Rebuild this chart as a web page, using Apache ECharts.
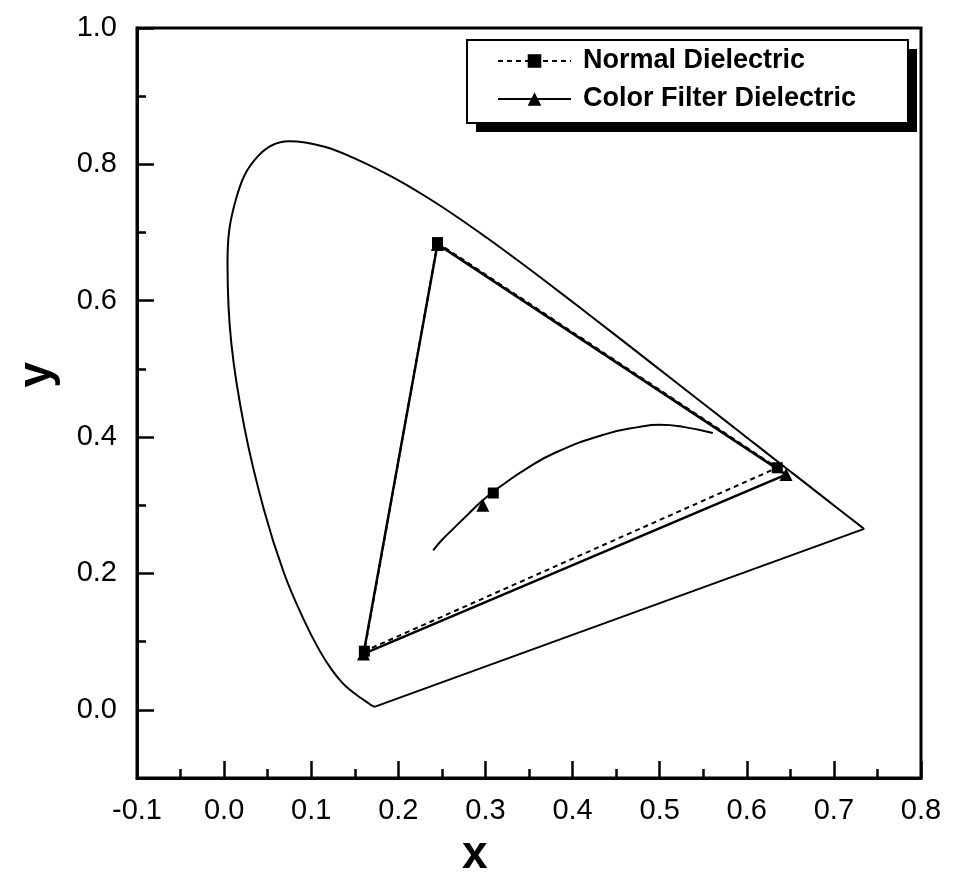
<!DOCTYPE html>
<html>
<head>
<meta charset="utf-8">
<script src="https://cdn.jsdelivr.net/npm/echarts@6/dist/echarts.min.js"></script>
<style>
  html, body { margin: 0; padding: 0; background: #fff; }
  #chart { width: 953px; height: 896px; }
</style>
</head>
<body>
<div id="chart"></div>
<script>
  // CIE 1931 spectral locus (x, y), 380 nm -> 700 nm
  const locusX = [0.1741, 0.1738, 0.1733, 0.1726, 0.1714, 0.1689, 0.1644, 0.1566, 0.1440, 0.1355, 0.1241, 0.1096, 0.0913, 0.0687, 0.0454, 0.0235, 0.0082, 0.0039, 0.0139, 0.0389, 0.0743, 0.1142, 0.1547, 0.1929, 0.2296, 0.2658, 0.3016, 0.3373, 0.3731, 0.4087, 0.4441, 0.4788, 0.5125, 0.5448, 0.5752, 0.6029, 0.6270, 0.6482, 0.6658, 0.6915, 0.7079, 0.7190, 0.7260, 0.7300, 0.7334, 0.7347]
  const locusY = [0.0050, 0.0049, 0.0048, 0.0048, 0.0051, 0.0069, 0.0109, 0.0177, 0.0297, 0.0399, 0.0578, 0.0868, 0.1327, 0.2007, 0.2950, 0.4127, 0.5384, 0.6548, 0.7502, 0.8120, 0.8338, 0.8262, 0.8059, 0.7816, 0.7543, 0.7243, 0.6923, 0.6589, 0.6245, 0.5896, 0.5547, 0.5202, 0.4866, 0.4544, 0.4242, 0.3965, 0.3725, 0.3514, 0.3340, 0.3083, 0.2920, 0.2809, 0.2740, 0.2700, 0.2666, 0.2653]
  // 紫线 (purple line) 700 nm -> 380 nm
  const purpleX = [0.7347, 0.1741]
  const purpleY = [0.2653, 0.0050]

  // 黑体轨迹 (Planckian locus)
  const planckX = [0.240, 0.250, 0.265, 0.281, 0.295, 0.306, 0.322, 0.345, 0.380, 0.437, 0.477, 0.500, 0.527, 0.561]
  const planckY = [0.234, 0.249, 0.268, 0.288, 0.305, 0.317, 0.332, 0.352, 0.377, 0.404, 0.415, 0.418, 0.415, 0.406]

  // 三原色: green, red, blue, green
  const normalX = [0.245, 0.635, 0.161, 0.245]
  const normalY = [0.685, 0.355, 0.086, 0.685]
  const filterX = [0.245, 0.645, 0.160, 0.245]
  const filterY = [0.683, 0.345, 0.082, 0.683]
  // 白点
  const normalWhite = [0.309, 0.318]
  const filterWhite = [0.297, 0.300]

  const yTicks = [0.0, 0.2, 0.4, 0.6, 0.8, 1.0]
  const yMinorTicks = [0.1, 0.3, 0.5, 0.7, 0.9]

  const zip = (xs, ys) => xs.map((x, i) => [x, ys[i]])
  const font = 'Liberation Sans, Arial, sans-serif'

  const chart = echarts.init(document.getElementById('chart'))

  const option = {
    animation: false,
    backgroundColor: '#fff',
    grid: {
      left: 137, right: 32, top: 28, bottom: 118,
      show: true, borderColor: '#000', borderWidth: 3
    },
    legend: {
      data: ['Normal Dielectric', 'Color Filter Dielectric'],
      orient: 'vertical',
      left: 497, top: 47, padding: 0,
      itemWidth: 73, itemHeight: 17, itemGap: 10,
      z: 20,
      textStyle: { fontFamily: font, fontWeight: 'bold', fontSize: 27, color: '#000', lineHeight: 28, padding: [0, 0, 0, 7] }
    },
    xAxis: {
      type: 'value', min: -0.1, max: 0.8, interval: 0.1,
      axisLine: { show: true, onZero: false, lineStyle: { color: '#000', width: 3 } },
      axisTick: { show: true, inside: true, length: 17, lineStyle: { color: '#000', width: 2.5 } },
      minorTick: { show: true, splitNumber: 2, length: 9, lineStyle: { color: '#000', width: 2.5 } },
      splitLine: { show: false },
      axisLabel: { margin: 18, fontFamily: font, fontSize: 29, color: '#000', formatter: (v) => v.toFixed(1) }
    },
    yAxis: [
      {
        type: 'value', min: -0.1, max: 1.0,
        axisLine: { show: true, onZero: false, lineStyle: { color: '#000', width: 3 } },
        axisTick: { show: true, inside: true, length: 17, customValues: yTicks, lineStyle: { color: '#000', width: 2.5 } },
        splitLine: { show: false },
        axisLabel: { margin: 20, fontFamily: font, fontSize: 29, color: '#000', customValues: yTicks, formatter: (v) => v.toFixed(1) }
      },
      {
        // 次刻度
        type: 'value', min: -0.1, max: 1.0, position: 'left',
        axisLine: { show: false, onZero: false },
        axisTick: { show: true, inside: true, length: 9, customValues: yMinorTicks, lineStyle: { color: '#000', width: 2.5 } },
        splitLine: { show: false },
        axisLabel: { show: false }
      }
    ],
    graphic: [
      // 图例框 + 阴影
      { type: 'rect', left: 476, top: 49, z: 10, shape: { width: 441, height: 83 }, style: { fill: '#000' } },
      { type: 'rect', left: 466, top: 39, z: 11, shape: { width: 441, height: 83 }, style: { fill: '#fff', stroke: '#000', lineWidth: 2 } },
      { type: 'text', left: 462, top: 832, style: { text: 'x', font: 'bold 46px ' + font, fill: '#000' } },
      { type: 'text', left: 14, top: 362, rotation: Math.PI / 2, style: { text: 'y', font: 'bold 46px ' + font, fill: '#000' } }
    ],
    series: [
      {
        name: 'locus', type: 'line', data: zip(locusX, locusY),
        showSymbol: false, smooth: 0.4, silent: true,
        lineStyle: { color: '#000', width: 2 }
      },
      {
        name: 'purple', type: 'line', data: zip(purpleX, purpleY),
        showSymbol: false, silent: true,
        lineStyle: { color: '#000', width: 2 }
      },
      {
        name: 'planck', type: 'line', data: zip(planckX, planckY),
        showSymbol: false, smooth: true, silent: true,
        lineStyle: { color: '#000', width: 2 }
      },
      {
        name: 'Normal Dielectric', type: 'line', data: zip(normalX, normalY),
        symbol: 'rect', symbolSize: 11,
        itemStyle: { color: '#000' },
        lineStyle: { color: '#000', width: 2, type: [5, 4] }
      },
      {
        name: 'Color Filter Dielectric', type: 'line', data: zip(filterX, filterY),
        symbol: 'triangle', symbolSize: 13,
        itemStyle: { color: '#000' },
        lineStyle: { color: '#000', width: 2.5 }
      },
      {
        name: 'normal white', type: 'scatter', data: [normalWhite],
        symbol: 'rect', symbolSize: 11, itemStyle: { color: '#000', opacity: 1 }
      },
      {
        name: 'filter white', type: 'scatter', data: [filterWhite],
        symbol: 'triangle', symbolSize: 13, itemStyle: { color: '#000', opacity: 1 }
      }
    ]
  }

  chart.setOption(option)
</script>
</body>
</html>
